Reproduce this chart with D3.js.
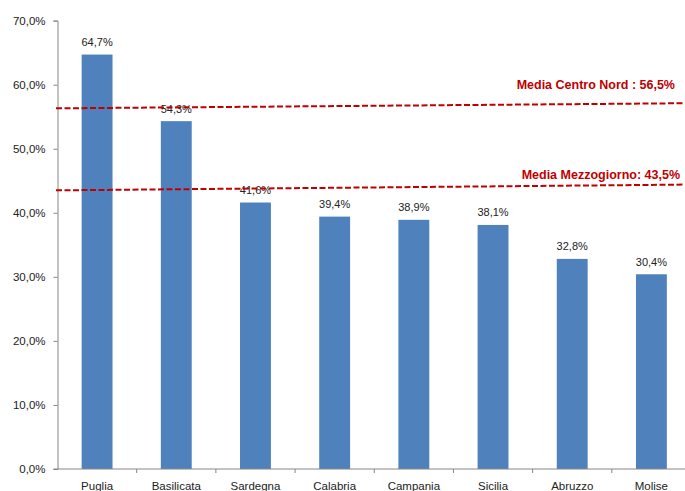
<!DOCTYPE html>
<html>
<head>
<meta charset="utf-8">
<script src="https://cdn.jsdelivr.net/npm/d3@7"></script>
<style>
  body { margin: 0; background: #fff; }
  svg { display: block; font-family: "Liberation Sans", Arial, sans-serif; }
</style>
</head>
<body>
<script>
// data
const regions = ["Puglia", "Basilicata", "Sardegna", "Calabria", "Campania", "Sicilia", "Abruzzo", "Molise"];
const values = [64.7, 54.3, 41.6, 39.4, 38.9, 38.1, 32.8, 30.4];
const yTicks = [0, 10, 20, 30, 40, 50, 60, 70];
// reference lines: label, start value (left), end value (right, drawn a bit slanted)
const refLabels = ["Media Centro Nord : 56,5%", "Media Mezzogiorno: 43,5%"];
const refStart = [56.3, 43.5];
const refEnd = [57.1, 44.4];

const width = 685, height = 491;
const margin = { top: 20.6, right: -6, bottom: 22, left: 57.5 };

const fmt = v => d3.format(".1f")(v).replace(".", ",") + "%";

const svg = d3.select("body").append("svg")
  .attr("width", width)
  .attr("height", height);

const x = d3.scaleBand()
  .domain(regions)
  .range([margin.left, width - margin.right])
  .paddingInner(0.61)
  .paddingOuter(0.305);

const y = d3.scaleLinear()
  .domain([0, 70])
  .range([height - margin.bottom, margin.top]);

// bars
svg.selectAll(".bar")
  .data(values)
  .enter().append("rect")
  .attr("class", "bar")
  .attr("x", (d, i) => x(regions[i]))
  .attr("y", d => y(d))
  .attr("width", x.bandwidth())
  .attr("height", d => y(0) - y(d))
  .style("fill", "#4f81bd");

// value labels
svg.selectAll(".val")
  .data(values)
  .enter().append("text")
  .attr("class", "val")
  .attr("x", (d, i) => x(regions[i]) + x.bandwidth() / 2)
  .attr("y", d => y(d) - 8.5)
  .attr("text-anchor", "middle")
  .style("font-size", "11px")
  .style("fill", "#222")
  .text(d => fmt(d));

// y axis
const yAxis = svg.append("g")
  .attr("transform", `translate(${margin.left},0)`)
  .call(d3.axisLeft(y).tickValues(yTicks).tickSize(4).tickPadding(8).tickFormat(fmt));
yAxis.select(".domain").attr("stroke", "#868686");
yAxis.selectAll(".tick line").attr("stroke", "#868686");
yAxis.selectAll(".tick text").style("font-size", "11.5px").style("fill", "#222").style("font-family", "Liberation Sans, Arial, sans-serif");

// x axis: line, ticks between categories
const xAxis = svg.append("g");
xAxis.append("line")
  .attr("x1", margin.left - 4).attr("x2", width)
  .attr("y1", y(0)).attr("y2", y(0))
  .attr("stroke", "#868686");
xAxis.selectAll(".sep")
  .data(regions.slice(1))
  .enter().append("line")
  .attr("x1", d => x(d) - x.step() * x.paddingInner() / 2)
  .attr("x2", d => x(d) - x.step() * x.paddingInner() / 2)
  .attr("y1", y(0)).attr("y2", y(0) + 4)
  .attr("stroke", "#868686");
xAxis.selectAll(".cat")
  .data(regions)
  .enter().append("text")
  .attr("x", d => x(d) + x.bandwidth() / 2)
  .attr("y", y(0) + 21)
  .attr("text-anchor", "middle")
  .style("font-size", "11.5px")
  .style("fill", "#222")
  .text(d => d);

// reference lines
const xl = d3.scaleLinear().domain([0, 1]).range([margin.left - 1.5, width]);
svg.selectAll(".ref")
  .data(refLabels)
  .enter().append("line")
  .attr("class", "ref")
  .attr("x1", xl(0)).attr("x2", xl(1))
  .attr("y1", (d, i) => y(refStart[i]))
  .attr("y2", (d, i) => y(refEnd[i]))
  .attr("stroke", "#c00000")
  .attr("stroke-width", 2)
  .attr("stroke-dasharray", "6,2.5");

svg.selectAll(".refLabel")
  .data(refLabels)
  .enter().append("text")
  .attr("class", "refLabel")
  .attr("x", (d, i) => i === 0 ? 675 : 680)
  .attr("y", (d, i) => y(refEnd[i]) - (i === 0 ? 14.5 : 6))
  .attr("text-anchor", "end")
  .style("font-size", "12.5px")
  .style("font-weight", "bold")
  .style("fill", "#c00000")
  .text(d => d);
</script>
</body>
</html>
